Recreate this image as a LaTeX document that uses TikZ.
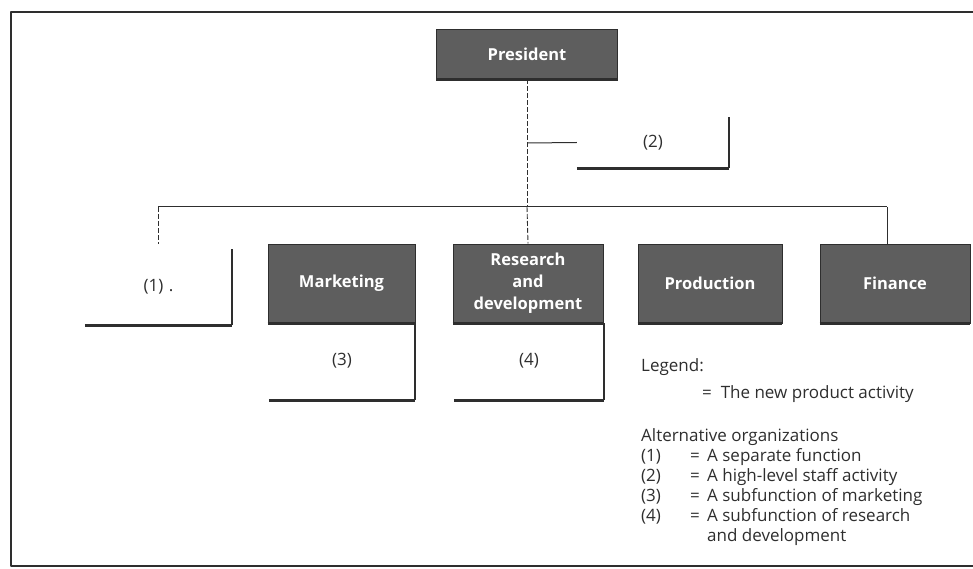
\documentclass[tikz,border=0pt]{standalone}
\usepackage{fontspec}
\setmainfont{Open Sans}
\definecolor{boxgray}{HTML}{5E5E5E}
\definecolor{ink}{HTML}{2E2E2E}
\tikzset{
  dbox/.style={fill=boxgray, draw=ink, line width=0.8pt, text=white, font=\bfseries\fontsize{16.5}{22}\selectfont, align=center, inner sep=2pt},
  obox/.style={inner sep=0pt, text=ink, font=\fontsize{17}{20}\selectfont},
  conn/.style={draw=ink, line width=1pt},
  dconn/.style={draw=ink, line width=0.9pt, dash pattern=on 5pt off 2pt},
  legtxt/.style={anchor=base west, inner sep=0pt, text=ink, font=\fontsize{17}{20}\selectfont},
}
\begin{document}
\begin{tikzpicture}[x=1pt,y=-1pt]
\useasboundingbox (0,0) rectangle (973,569);
% frame
\draw[ink, line width=2.5pt, line join=round] (973,12) -- (11,12) -- (11,566) -- (973,566);

% dark boxes
\node[dbox, minimum width=181, minimum height=50] (pres) at (527,54) {President};
\node[dbox, minimum width=147, minimum height=79] (mkt) at (341.5,283.5) {Marketing};
\node[dbox, minimum width=150, minimum height=79] (rd) at (528,283.5) {Research\\and\\development};
\node[dbox, minimum width=144, minimum height=79] (prod) at (710,283.5) {Production};
\node[dbox, minimum width=150, minimum height=79] (fin) at (895,283.5) {Finance};
\foreach \b in {pres,mkt,rd,prod,fin}
  \draw[ink, line width=2.5pt] (\b.south west) -- (\b.south east);

% open boxes
\node[obox, minimum width=147, minimum height=76] (o1) at (158.5,287) {(1)\,\,.};
\node[obox, minimum width=152, minimum height=51] (o2) at (653,142.5) {(2)};
\node[obox, minimum width=146, minimum height=77] (o3) at (342,361.5) {\raisebox{4pt}{(3)}};
\node[obox, minimum width=150, minimum height=77] (o4) at (529,361.5) {\raisebox{4pt}{(4)}};
\foreach \b in {o1,o2,o3,o4}{
  \draw[ink, line width=2.8pt] (\b.south west) -- (\b.south east);
  \draw[ink, line width=1.8pt] (\b.south east) -- (\b.north east);
}

% connectors
\coordinate (js) at (527,143);
\coordinate (jt) at (527,207);
\coordinate (jl) at (158,207);
\coordinate (jr) at (887,207);
\draw[dconn] (pres.south) -- (jt);
\draw[dconn] (jt) -- (rd.north);
\draw[conn] (js) -- (o2.west);
\draw[conn] (jl) -- (jr);
\draw[conn] (jr) -- (jr |- fin.north);
\draw[dconn] (jl) -- (jl |- mkt.north);

% legend
\node[legtxt] (lg) at (641,371) {Legend:};
\node[legtxt] (lg0) at (702,398) {=\ \ The new product activity};
\node[legtxt] (alt) at (641,441) {Alternative organizations};
\node[legtxt] (n1) at (641,461) {(1)};
\node[legtxt] (n2) at (641,481) {(2)};
\node[legtxt] (n3) at (641,501) {(3)};
\node[legtxt] (n4) at (641,521) {(4)};
\node[legtxt] (e1) at (690,461) {=};
\node[legtxt] (e2) at (690,481) {=};
\node[legtxt] (e3) at (690,501) {=};
\node[legtxt] (e4) at (690,521) {=};
\node[legtxt] (t1) at (707,461) {A separate function};
\node[legtxt] (t2) at (707,481) {A high-level staff activity};
\node[legtxt] (t3) at (707,501) {A subfunction of marketing};
\node[legtxt] (t4) at (707,521) {A subfunction of research};
\node[legtxt] (t5) at (707,541) {and development};
\end{tikzpicture}
\end{document}
